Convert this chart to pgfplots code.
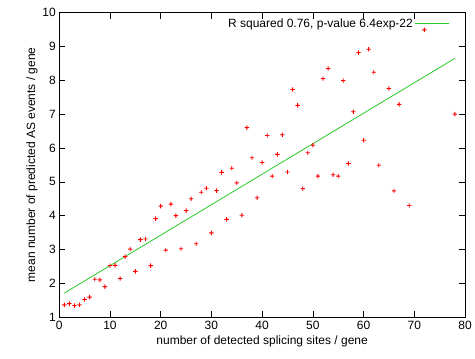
\documentclass[border=0pt]{standalone}
\usepackage{pgfplots}
\pgfplotsset{compat=1.18}
\usepackage{fontspec}
\setmainfont{Liberation Sans}
\definecolor{fitgreen}{RGB}{40,200,40}
\pgfdeclareplotmark{fplus}{%
  \pgfpathrectangle{\pgfpoint{-2.2pt}{-0.45pt}}{\pgfpoint{4.4pt}{0.9pt}}%
  \pgfpathrectangle{\pgfpoint{-0.45pt}{-2.2pt}}{\pgfpoint{0.9pt}{4.4pt}}%
  \pgfusepathqfill}
\begin{document}
\begin{tikzpicture}[x=1pt,y=1pt]
\begin{axis}[
  at={(0,0)}, anchor=south west,
  scale only axis, width=406pt, height=304.6pt,
  xmin=0, xmax=80, ymin=1, ymax=10,
  xtick={0,10,...,80}, ytick={1,2,...,10},
  tick align=inside, major tick length=6pt,
  tick style={black, line width=0.6pt},
  axis line style={black, line width=0.6pt},
  font=\fontsize{12}{14}\selectfont,
  /pgf/number format/assume math mode=true,
  xlabel={number of detected splicing sites / gene},
  ylabel={mean number of predicted AS events / gene},
  xlabel style={yshift=0pt},
  ylabel style={yshift=-2pt},
  legend plot pos=right,
  legend cell align=right,
  legend style={draw=none, fill=none, at={(0.97,0.995)}, anchor=north east,
    font=\fontsize{12}{14}\selectfont},
  legend image code/.code={\draw[#1] (0pt,0pt) -- (34pt,0pt);},
]
\addplot[only marks, mark=fplus, mark options={fill=red, draw=none}, red, forget plot] coordinates {
(1,1.36) (2,1.40) (3,1.34) (4,1.36) (5,1.52) (6,1.59) (7,2.12) (8,2.10) (9,1.90)
(10,2.52) (11,2.53) (12,2.14) (13,2.79) (14,3.01) (15,2.35) (16,3.29) (17,3.31)
(18,2.52) (19,3.91) (20,4.28) (21,2.98) (22,4.34) (23,4.00) (24,3.02) (25,4.15)
(26,4.50) (27,3.17) (28,4.69) (29,4.81) (30,3.49) (31,4.74) (32,5.28) (33,3.89)
(34,5.40) (35,4.97) (36,4.01) (37,6.60) (38,5.71) (39,4.53) (40,5.57) (41,6.37)
(42,5.17) (43,5.81) (44,6.39) (45,5.29) (46,7.73) (47,7.26) (48,4.80) (49,5.86)
(50,6.08) (51,5.17) (52,8.05) (53,8.35) (54,5.21) (55,5.17) (56,7.99) (57,5.54)
(58,7.07) (59,8.82) (60,6.23) (61,8.92) (62,8.24) (63,5.49) (65,7.76) (66,4.73)
(67,7.29) (69,4.30) (72,9.49) (78,7.00)
};
\addplot[fitgreen, line width=0.8pt] coordinates {(1,1.71) (78,8.65)};
\addlegendentry{R squared 0.76, p-value 6.4exp-22}
\end{axis}
\path[use as bounding box] (-59.3,-41.7) rectangle (415.7,317.3);
\end{tikzpicture}
\end{document}
